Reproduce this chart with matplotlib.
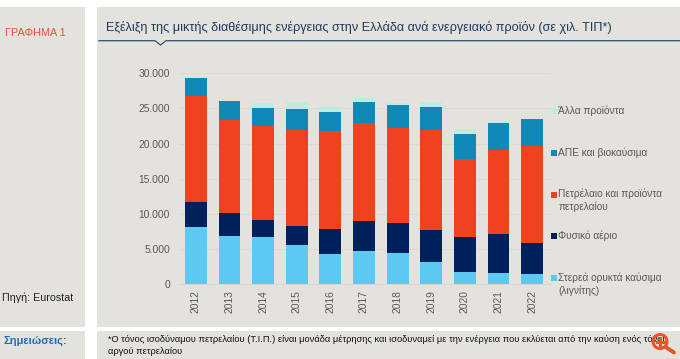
import numpy as np
import matplotlib
matplotlib.use("Agg")
import matplotlib.pyplot as plt
from matplotlib.patches import Rectangle, Circle

plt.rcParams["font.family"] = ["Liberation Sans", "DejaVu Sans"]

years = ["2012", "2013", "2014", "2015", "2016", "2017", "2018", "2019", "2020", "2021", "2022"]
# values in thousand toe
lignite = [8100, 6900, 6700, 5550, 4360, 4800, 4500, 3180, 1800, 1660, 1470]
gas = [3600, 3300, 2400, 2700, 3440, 4150, 4170, 4480, 4930, 5440, 4410]
oil = [15100, 13100, 13450, 13750, 14000, 14050, 13530, 14340, 11140, 12000, 13820]
renew = [2500, 2700, 2500, 2900, 2750, 2900, 3250, 3170, 3460, 3900, 3760]
other = [0, 0, 750, 1000, 700, 600, 350, 800, 750, 130, 0]

series = [lignite, gas, oil, renew, other]
colors = ["#5DC9F3", "#00205C", "#F04121", "#1089B9", "#BFEBE1"]
legend_labels = ["Στερεά ορυκτά καύσιμα\n(λιγνίτης)", "Φυσικό αέριο",
                 "Πετρέλαιο και προϊόντα\nπετρελαίου", "ΑΠΕ και βιοκαύσιμα", "Άλλα προϊόντα"]
legend_y = [284, 236, 200.5, 153, 111]

W, H = 680, 359
fig = plt.figure(figsize=(W / 100, H / 100), dpi=100, facecolor="white")

# page layout, in pixels
page = fig.add_axes([0, 0, 1, 1])
page.set_xlim(0, W)
page.set_ylim(H, 0)
page.axis("off")

panel = "#E4E2DD"
page.add_patch(Rectangle((0, 7), 85, 320, color=panel, lw=0))
page.add_patch(Rectangle((97, 7), 583, 320, color=panel, lw=0))
page.add_patch(Rectangle((0, 331), 85, 28, color=panel, lw=0))
page.add_patch(Rectangle((97, 331), 583, 28, color=panel, lw=0))

page.text(5, 32.5, "ΓΡΑΦΗΜΑ 1", color="#E8503A", fontsize=7.8, va="center")
page.text(106, 27.5, "Εξέλιξη της μικτής διαθέσιμης ενέργειας στην Ελλάδα ανά ενεργειακό προϊόν (σε χιλ. ΤΙΠ*)",
          color="#1F3A5F", fontsize=9.07, va="center")
page.plot([99, 155, 160.5, 166, 680], [40.7, 40.7, 45, 40.7, 40.7], color="#2F4F70", lw=0.9)
page.text(2, 298, "Πηγή: Eurostat", color="#222222", fontsize=7.65, va="center")
page.text(4, 341, "Σημειώσεις:", color="#1F6DB5", fontsize=8, fontweight="bold", va="center")
page.text(108, 339.5, "*Ο τόνος ισοδύναμου πετρελαίου (Τ.Ι.Π.) είναι μονάδα μέτρησης και ισοδυναμεί με την ενέργεια που εκλύεται από την καύση ενός τόνου",
          color="#111111", fontsize=6.7, va="center")
page.text(108, 352, "αργού πετρελαίου", color="#111111", fontsize=6.7, va="center")

# legend
for i in range(len(series)):
    first_line = legend_y[i] - 5.7 if "\n" in legend_labels[i] else legend_y[i]
    page.add_patch(Rectangle((551, first_line - 3), 6, 6, color=colors[i], lw=0))
    page.text(558.3, legend_y[i], legend_labels[i], color="#595959", fontsize=7.33,
              va="center", linespacing=1.3)

# chart
ax = fig.add_axes([179 / W, 1 - 284.3 / H, 371 / W, 211 / H])
ax.patch.set_alpha(0)
x = np.arange(len(years))
bottom = np.zeros(len(years))
for i in range(len(series)):
    ax.bar(x, series[i], 0.65, bottom=bottom, color=colors[i], zorder=3)
    bottom = bottom + np.array(series[i])

ax.set_xlim(-0.5, len(years) - 0.5 + 0.03)
ax.set_ylim(0, 30000)
ax.set_yticks(range(0, 30001, 5000))
ax.set_yticklabels(["0", "5.000", "10.000", "15.000", "20.000", "25.000", "30.000"])
ax.set_xticks(x)
ax.set_xticklabels(years, rotation=90)
ax.tick_params(length=0, labelsize=7.4, labelcolor="#595959")
ax.tick_params(axis="y", pad=6.5)
ax.tick_params(axis="x", pad=4)
ax.grid(axis="y", color="#DCDAD5", lw=0.7, zorder=0)
for s in ["top", "right", "left"]:
    ax.spines[s].set_visible(False)
ax.spines["bottom"].set_color("#D5D3CE")
ax.spines["bottom"].set_linewidth(0.7)

# zoom icon bottom right
icon = "#E8552B"
top = fig.add_axes([0, 0, 1, 1])
top.set_xlim(0, W)
top.set_ylim(H, 0)
top.axis("off")
top.add_patch(Circle((660, 341.5), 7, fill=False, ec=icon, lw=2.2))
top.plot([665.5, 674], [347, 352.5], color=icon, lw=2.8, solid_capstyle="round")
top.plot([656.5, 663.5], [341.5, 341.5], color=icon, lw=2.2)
top.plot([660, 660], [338, 345], color=icon, lw=2.2)

fig.savefig("out.png", dpi=100)
